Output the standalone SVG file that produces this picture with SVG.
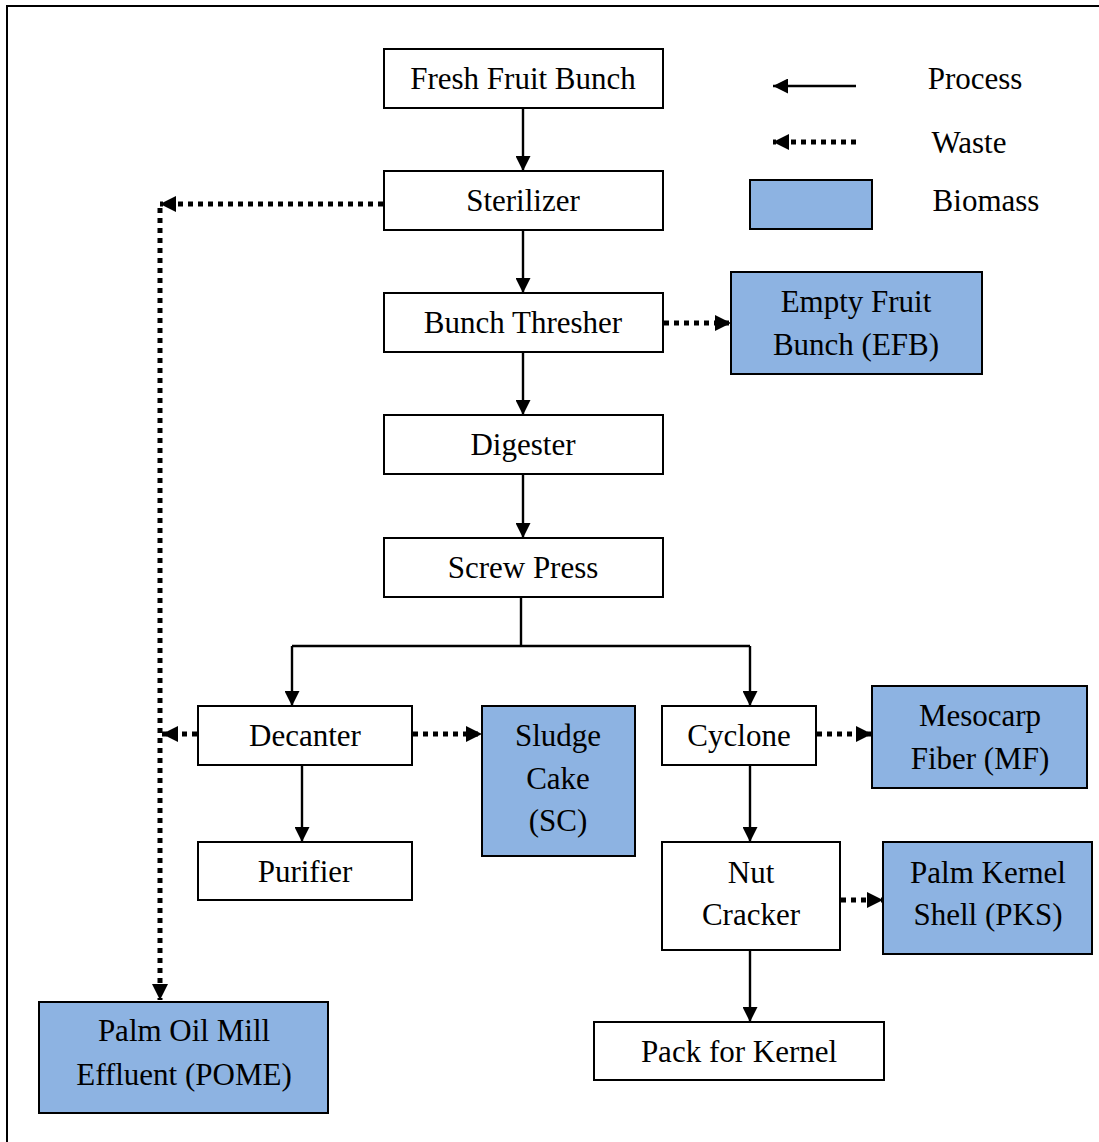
<svg xmlns="http://www.w3.org/2000/svg" width="1099" height="1142" viewBox="0 0 1099 1142">
<style>
.box{fill:#fff;stroke:#000;stroke-width:2}
.bio{fill:#8DB3E2;stroke:#000;stroke-width:2}
text{font-family:"Liberation Serif","Times New Roman",serif;font-size:31px;fill:#000;text-anchor:middle}
.proc{fill:none;stroke:#000;stroke-width:2.4}
.waste{fill:none;stroke:#000;stroke-width:5;stroke-dasharray:5 5}
</style>
<defs>
<marker id="ah" markerUnits="userSpaceOnUse" viewBox="0 0 15 15" markerWidth="15" markerHeight="15" refX="15" refY="7.5" orient="auto">
<path d="M0,0 L15,7.5 L0,15 z" fill="#000"/>
</marker>
<marker id="wh" markerUnits="userSpaceOnUse" viewBox="0 0 16 16" markerWidth="16" markerHeight="16" refX="16" refY="8" orient="auto">
<path d="M0,0 L16,8 L0,16 z" fill="#000"/>
</marker>
</defs>
<rect width="1099" height="1142" fill="#fff"/>
<rect x="7" y="6" width="1110" height="1160" fill="none" stroke="#000" stroke-width="2"/>

<g id="connectors">
<path class="proc" d="M523,108 V171" marker-end="url(#ah)"/>
<path class="proc" d="M523,230 V293" marker-end="url(#ah)"/>
<path class="proc" d="M523,352 V415" marker-end="url(#ah)"/>
<path class="proc" d="M523,474 V538" marker-end="url(#ah)"/>
<path class="proc" d="M521,597 V646 M292,646 H750"/>
<path class="proc" d="M292,646 V706" marker-end="url(#ah)"/>
<path class="proc" d="M750,646 V706" marker-end="url(#ah)"/>
<path class="proc" d="M302,765 V842" marker-end="url(#ah)"/>
<path class="proc" d="M750,765 V842" marker-end="url(#ah)"/>
<path class="proc" d="M750,950 V1022" marker-end="url(#ah)"/>
<path class="waste" d="M383,204 H160" marker-end="url(#wh)"/>
<path class="waste" d="M160,208 V1000" marker-end="url(#wh)"/>
<path class="waste" d="M197,734 H162" marker-end="url(#wh)"/>
<path class="waste" d="M413,734 H482" marker-end="url(#wh)"/>
<path class="waste" d="M664,323 H731" marker-end="url(#wh)"/>
<path class="waste" d="M817,734 H872" marker-end="url(#wh)"/>
<path class="waste" d="M841,900 H883" marker-end="url(#wh)"/>
</g>

<g id="legend">
<path class="proc" d="M856,86 H773" marker-end="url(#ah)"/>
<path class="waste" d="M856,142 H773" marker-end="url(#wh)"/>
<rect class="bio" x="750" y="180" width="122" height="49"/>
<text x="975" y="89">Process</text>
<text x="969" y="153">Waste</text>
<text x="986" y="211">Biomass</text>
</g>

<g id="ffb"><rect class="box" x="384" y="49" width="279" height="59"/><text x="523" y="89">Fresh Fruit Bunch</text></g>
<g id="sterilizer"><rect class="box" x="384" y="171" width="279" height="59"/><text x="523" y="211">Sterilizer</text></g>
<g id="thresher"><rect class="box" x="384" y="293" width="279" height="59"/><text x="523" y="333">Bunch Thresher</text></g>
<g id="digester"><rect class="box" x="384" y="415" width="279" height="59"/><text x="523" y="455">Digester</text></g>
<g id="screwpress"><rect class="box" x="384" y="538" width="279" height="59"/><text x="523" y="578">Screw Press</text></g>
<g id="efb"><rect class="bio" x="731" y="272" width="251" height="102"/><text x="856" y="312">Empty Fruit</text><text x="856" y="355">Bunch (EFB)</text></g>
<g id="decanter"><rect class="box" x="198" y="706" width="214" height="59"/><text x="305" y="746">Decanter</text></g>
<g id="purifier"><rect class="box" x="198" y="842" width="214" height="58"/><text x="305" y="882">Purifier</text></g>
<g id="sludge"><rect class="bio" x="482" y="706" width="153" height="150"/><text x="558" y="746">Sludge</text><text x="558" y="789">Cake</text><text x="558" y="831">(SC)</text></g>
<g id="cyclone"><rect class="box" x="662" y="706" width="154" height="59"/><text x="739" y="746">Cyclone</text></g>
<g id="mesocarp"><rect class="bio" x="872" y="686" width="215" height="102"/><text x="980" y="726">Mesocarp</text><text x="980" y="769">Fiber (MF)</text></g>
<g id="nutcracker"><rect class="box" x="662" y="842" width="178" height="108"/><text x="751" y="883">Nut</text><text x="751" y="925">Cracker</text></g>
<g id="pks"><rect class="bio" x="883" y="842" width="209" height="112"/><text x="988" y="883">Palm Kernel</text><text x="988" y="925">Shell (PKS)</text></g>
<g id="pack"><rect class="box" x="594" y="1022" width="290" height="58"/><text x="739" y="1062">Pack for Kernel</text></g>
<g id="pome"><rect class="bio" x="39" y="1002" width="289" height="111"/><text x="184" y="1041">Palm Oil Mill</text><text x="184" y="1085">Effluent (POME)</text></g>
</svg>
